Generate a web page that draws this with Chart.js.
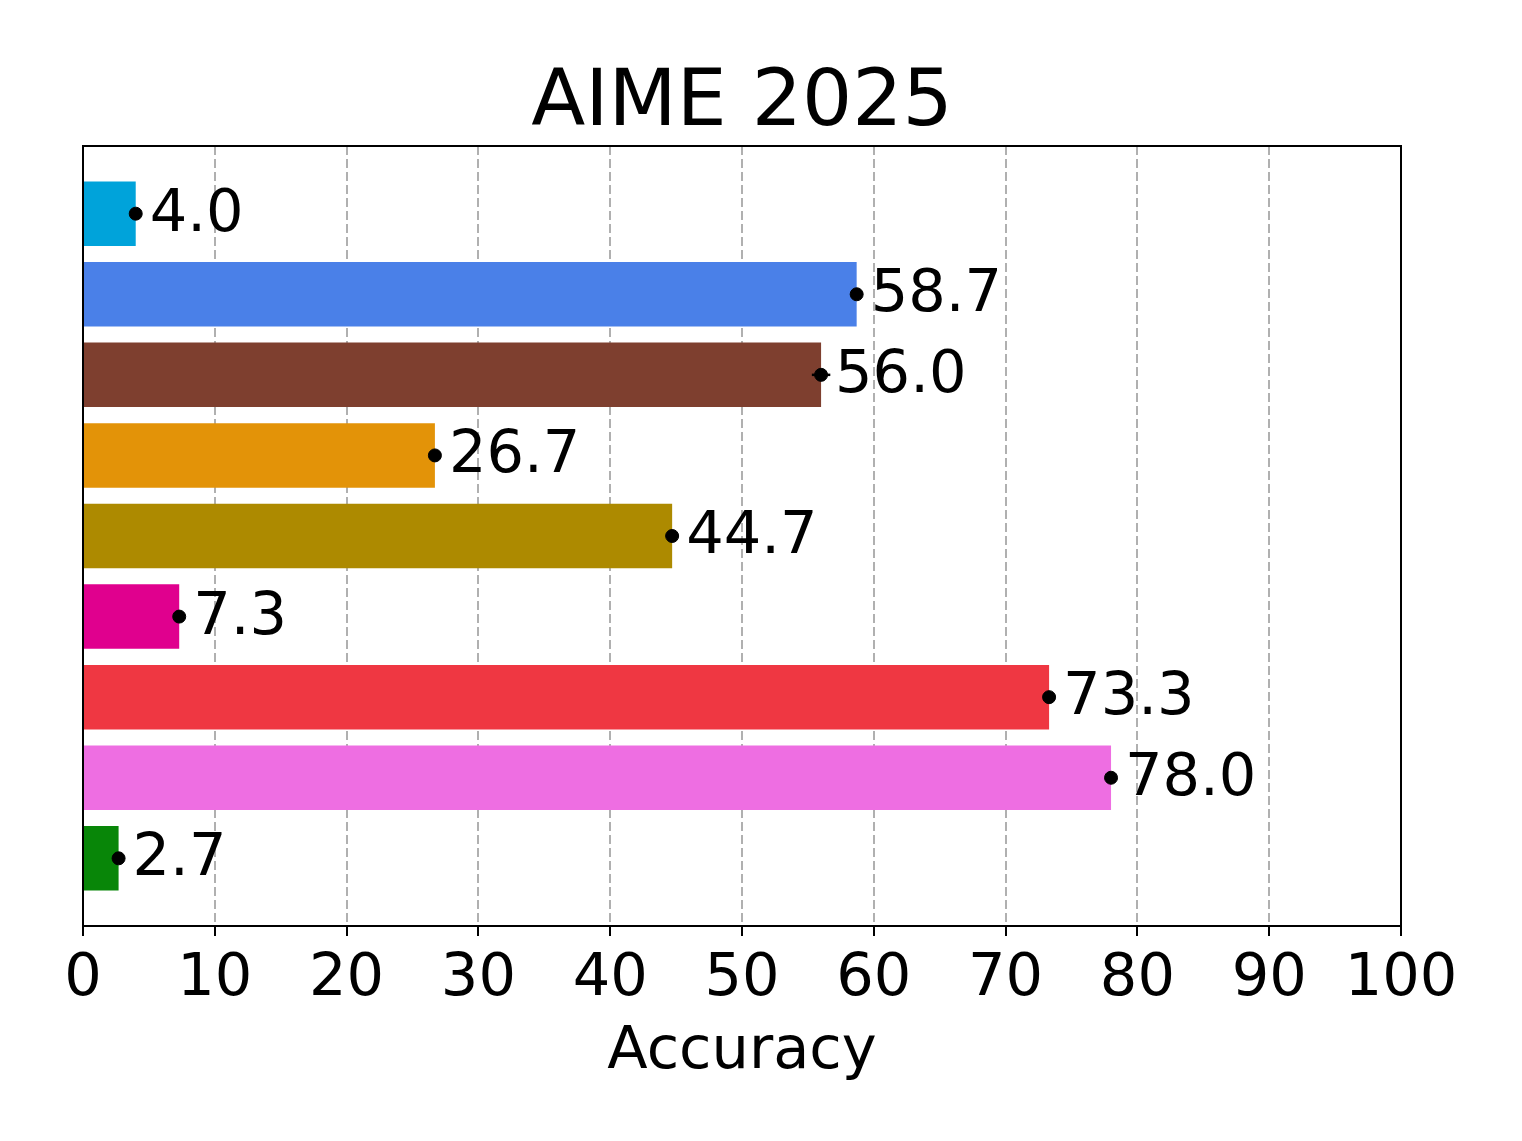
<!DOCTYPE html>
<html>
<head>
<meta charset="utf-8">
<script src="https://cdn.jsdelivr.net/npm/chart.js@4"></script>
<style>
  html, body { margin: 0; padding: 0; background: #ffffff; }
  #wrap { width: 1522px; height: 1141px; }
</style>
</head>
<body>
<div id="wrap"><canvas id="c" width="1522" height="1141"></canvas></div>
<script>
// ---- data ----
const categories = ['Model 1', 'Model 2', 'Model 3', 'Model 4', 'Model 5', 'Model 6', 'Model 7', 'Model 8', 'Model 9'];
const accuracy = [4.0, 58.7, 56.0, 26.7, 44.7, 7.3, 73.3, 78.0, 2.7];
const errors = [0, 0, 0.7, 0, 0, 0, 0, 0, 0];
const barColors = ['#00A3DA', '#4A80E8', '#7E3F2F', '#E39308', '#AD8A00', '#E0008E', '#EF3742', '#EE6EE2', '#088608'];
const xTicks = [0, 10, 20, 30, 40, 50, 60, 70, 80, 90, 100];
const chartTitle = 'AIME 2025';
const xTitle = 'Accuracy';

const FONT = "'DejaVu Sans', 'Liberation Sans', sans-serif";

const barData = categories.map((c, i) => ({ x: accuracy[i], y: i }));
const dotData = categories.map((c, i) => ({ x: accuracy[i], y: i }));

const framePlugin = {
  id: 'frame',
  afterDatasetsDraw(chart) {
    const ctx = chart.ctx;
    const xs = chart.scales.x, ys = chart.scales.y;
    ctx.save();
    // error bars
    ctx.strokeStyle = '#000';
    ctx.lineWidth = 2.5;
    categories.forEach((c, i) => {
      if (errors[i] > 0) {
        const y = ys.getPixelForValue(i);
        ctx.beginPath();
        ctx.moveTo(xs.getPixelForValue(accuracy[i] - errors[i]), y);
        ctx.lineTo(xs.getPixelForValue(accuracy[i] + errors[i]), y);
        ctx.stroke();
      }
    });
    // value labels
    ctx.fillStyle = '#000';
    ctx.font = '59px ' + FONT;
    ctx.textAlign = 'left';
    ctx.textBaseline = 'alphabetic';
    categories.forEach((c, i) => {
      const x = xs.getPixelForValue(accuracy[i]) + 14;
      const y = ys.getPixelForValue(i) + 17;
      ctx.fillText(accuracy[i].toFixed(1), x, y);
    });
    // frame
    const a = chart.chartArea;
    ctx.lineWidth = 2;
    ctx.strokeStyle = '#000';
    ctx.strokeRect(a.left, a.top, a.right - a.left, a.bottom - a.top);
    ctx.restore();
  }
};

new Chart(document.getElementById('c'), {
  data: {
    datasets: [
      {
        type: 'scatter',
        data: dotData,
        backgroundColor: '#000',
        borderColor: '#000',
        pointRadius: 6.5,
        pointHoverRadius: 6.5,
        order: 0
      },
      {
        type: 'bar',
        indexAxis: 'y',
        data: barData,
        backgroundColor: barColors,
        borderWidth: 0,
        barPercentage: 0.8,
        categoryPercentage: 1.0,
        order: 1
      }
    ]
  },
  options: {
    responsive: false,
    animation: false,
    devicePixelRatio: 1,
    layout: { padding: { top: 65, left: 83, right: 121, bottom: 53 } },
    plugins: {
      legend: { display: false },
      tooltip: { enabled: false },
      title: {
        display: true,
        text: chartTitle,
        color: '#000',
        font: { family: FONT, size: 79, weight: 'normal', lineHeight: 1 },
        padding: { top: 0, bottom: 2 }
      }
    },
    scales: {
      x: {
        type: 'linear',
        min: 0,
        max: 100,
        afterBuildTicks(scale) { scale.ticks = xTicks.map(v => ({ value: v })); },
        afterFit(scale) { scale.height = 162; },
        ticks: {
          color: '#000',
          font: { family: FONT, size: 59 },
          padding: 8,
          maxRotation: 0,
          autoSkip: false,
          callback: (v) => String(v)
        },
        grid: {
          color: '#b0b0b0',
          lineWidth: 2,
          tickColor: '#000',
          tickWidth: 2,
          tickLength: 10
        },
        border: { display: false, dash: [9, 4] },
        title: {
          display: true,
          text: xTitle,
          color: '#000',
          font: { family: FONT, size: 59 },
          padding: { top: 0, bottom: 0 }
        }
      },
      y: {
        type: 'linear',
        min: -0.84,
        max: 8.84,
        reverse: true,
        offset: false,
        display: false,
        afterBuildTicks(scale) { scale.ticks = categories.map((c, i) => ({ value: i })); }
      }
    }
  },
  plugins: [framePlugin]
});
</script>
</body>
</html>
